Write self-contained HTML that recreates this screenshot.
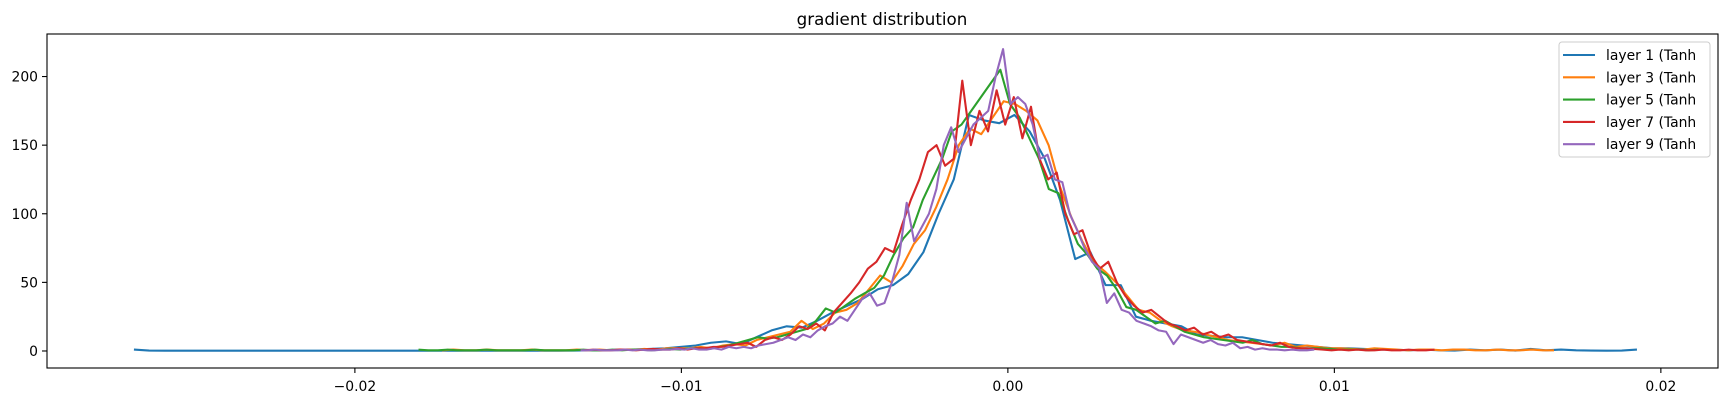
<!DOCTYPE html>
<html><head><meta charset="utf-8"><style>
html,body{margin:0;padding:0;background:#fff;}
svg text{font-family:"DejaVu Sans","Liberation Sans",sans-serif;fill:#000;}
</style></head><body>
<svg id="chart" width="1727" height="402" viewBox="0 0 1727 402" xmlns="http://www.w3.org/2000/svg">
<rect width="1727" height="402" fill="#fff"/>
<text x="882" y="25" font-size="16.7" text-anchor="middle">gradient distribution</text>
<g id="plot"></g>
<rect x="47" y="34" width="1671" height="334" fill="none" stroke="#000" stroke-width="1.1"/>
<g id="legend"></g>
</svg>
<script>
const xTicks = [-0.02, -0.01, 0.0, 0.01, 0.02];
const xTickLabels = ["\u22120.02", "\u22120.01", "0.00", "0.01", "0.02"];
const yTicks = [0, 50, 100, 150, 200];
const seriesNames = ["layer 1 (Tanh", "layer 3 (Tanh", "layer 5 (Tanh", "layer 7 (Tanh", "layer 9 (Tanh"];
const seriesColors = ["#1f77b4", "#ff7f0e", "#2ca02c", "#d62728", "#9467bd"];
const seriesRanges = [[-0.027, 0.0195], [-0.0175, 0.0169], [-0.0182, 0.0115], [-0.0131, 0.0132], [-0.0132, 0.0095]];
const layer1 = [1,0.3,0.2,0.2,0.2,0.2,0.2,0.2,0.2,0.2,0.2,0.2,0.2,0.2,0.2,0.2,0.2,0.2,0.2,0.2,0.2,0.2,0.2,0.2,0.2,0.2,0.2,0.2,0.2,0.3,0.5,0.5,1,1,1.5,2,3,4,6,7,5,10,15,18,17,22,28,33,38,45,48,56,72,100,125,172,168,166,172,160,140,110,67,72,48,48,25,22,20,18,12,11,10,10,8,6,5,4,3,2,2,1.5,1,1,0.5,1,0.5,0.3,1,0.5,1,0.3,1.5,0.5,1,0.5,0.3,0.2,0.3,1];
const layer3 = [0.5,1,0.5,0.5,1,0.5,0.5,0.5,1,0.5,0.5,0.5,1,0.5,1,0.5,1,1,1.5,1,2,2,2,3,2,4,5,4,8,10,12,14,22,16,20,28,30,35,45,55,50,62,78,88,105,125,150,162,158,170,182,180,175,168,150,120,98,80,65,58,50,40,30,28,22,18,15,14,12,10,8,7,6,5,4,6,3,4,3,2,2,1.5,1,2,1.5,1,0.5,1,1,0.5,1,1,0.5,0.5,1,0.5,0.5,1,0.5,0.5];
const layer5 = [1,0.5,0.5,1,0.5,0.5,0.5,1,0.5,0.5,0.5,0.5,1,0.5,0.5,0.5,0.5,1,0.5,0.5,1,0.5,1,1,0.5,1,1.5,1,2,2,1.5,3,4,6,8,10,9,10,12,14,16,22,31,28,33,38,42,46,55,70,82,90,110,125,140,160,165,175,185,195,205,180,170,155,140,118,115,95,78,70,60,55,45,32,30,25,20,22,18,14,12,10,9,8,7,6,8,5,4,3,3,2,2,2,1.5,1,1,1,0.5,1];
const layer7 = [0.5,1,0.5,0.5,1,1,0.5,1,1.5,1,1,2,1,2,2,3,3,4,5,6,3,8,10,8,12,18,16,20,15,28,35,42,50,60,65,75,72,92,110,125,145,150,135,140,197,150,175,160,190,165,185,155,178,140,125,130,100,85,88,70,60,65,50,40,33,28,30,25,20,18,15,17,12,14,10,12,8,7,6,5,4,6,3,2,2,1.5,1,0.5,1,0.5,1,0.5,0.5,1,0.5,0.5,1,0.5,0.5,1];
const layer9 = [0.5,0.5,1,0.5,0.5,0.5,1,0.5,1,0.5,0.5,1,1,1.5,1,2,1,1,2,1,3,2,3,2,4,5,6,8,10,8,12,10,15,18,20,25,22,30,38,42,33,35,50,70,108,80,90,100,118,150,163,145,155,165,170,175,200,220,180,185,180,165,140,143,125,123,100,88,75,65,60,35,42,30,28,22,20,18,15,14,5,12,10,8,6,8,5,4,6,2,3,1,2,1,1,0.5,1,0.5,0.5,1];
const seriesValues = [layer1, layer3, layer5, layer7, layer9];

const NS = "http://www.w3.org/2000/svg";
const AX = {left: 47, right: 1718, top: 34, bottom: 368};
const X_MIN = -0.02943, X_MAX = 0.02175, Y_MIN = -12.4, Y_MAX = 231;
function xScale(v){ return AX.left + (v - X_MIN) / (X_MAX - X_MIN) * (AX.right - AX.left); }
function yScale(v){ return AX.bottom - (v - Y_MIN) / (Y_MAX - Y_MIN) * (AX.bottom - AX.top); }

const plot = document.getElementById("plot");
const svg = document.getElementById("chart");

xTicks.forEach((t, i) => {
  const x = xScale(t);
  const tick = document.createElementNS(NS, "line");
  
  
  tick.setAttribute("x1", x); tick.setAttribute("x2", x);
  tick.setAttribute("y1", AX.bottom); tick.setAttribute("y2", AX.bottom + 5);
  tick.setAttribute("stroke", "#000"); tick.setAttribute("stroke-width", "1.1");
  svg.appendChild(tick);
  const lab = document.createElementNS(NS, "text");
  
  
  lab.setAttribute("x", x); lab.setAttribute("y", AX.bottom + 23);
  lab.setAttribute("font-size", "13.9"); lab.setAttribute("text-anchor", "middle");
  lab.textContent = xTickLabels[i];
  svg.appendChild(lab);
});
yTicks.forEach(t => {
  const y = yScale(t);
  const tick = document.createElementNS(NS, "line");
  
  
  tick.setAttribute("x1", AX.left - 5); tick.setAttribute("x2", AX.left);
  tick.setAttribute("y1", y); tick.setAttribute("y2", y);
  tick.setAttribute("stroke", "#000"); tick.setAttribute("stroke-width", "1.1");
  svg.appendChild(tick);
  const lab = document.createElementNS(NS, "text");
  
  
  lab.setAttribute("x", AX.left - 9); lab.setAttribute("y", y + 5);
  lab.setAttribute("font-size", "13.9"); lab.setAttribute("text-anchor", "end");
  lab.textContent = String(t);
  svg.appendChild(lab);
});

seriesValues.forEach((vals, s) => {
  const [lo, hi] = seriesRanges[s];
  const w = (hi - lo) / vals.length;
  const pts = vals.map((v, i) => xScale(lo + (i + 0.5) * w).toFixed(2) + "," + yScale(v).toFixed(2)).join(" ");
  const pl = document.createElementNS(NS, "polyline");
  
  
  pl.setAttribute("points", pts);
  pl.setAttribute("fill", "none");
  pl.setAttribute("stroke", seriesColors[s]);
  pl.setAttribute("stroke-width", "2.1");
  pl.setAttribute("stroke-linejoin", "round");
  plot.appendChild(pl);
});

const legend = document.getElementById("legend");
const box = document.createElementNS(NS, "rect");


box.setAttribute("x", 1559); box.setAttribute("y", 42);
box.setAttribute("width", 151); box.setAttribute("height", 115);
box.setAttribute("rx", 3);
box.setAttribute("fill", "#fff"); box.setAttribute("fill-opacity", "0.8");
box.setAttribute("stroke", "#ccc"); box.setAttribute("stroke-width", "1");
legend.appendChild(box);
seriesNames.forEach((name, i) => {
  const y = 55 + i * 22.3;
  const ln = document.createElementNS(NS, "line");
  
  
  ln.setAttribute("x1", 1563); ln.setAttribute("x2", 1595);
  ln.setAttribute("y1", y); ln.setAttribute("y2", y);
  ln.setAttribute("stroke", seriesColors[i]); ln.setAttribute("stroke-width", "2.1");
  legend.appendChild(ln);
  const tx = document.createElementNS(NS, "text");
  
  
  tx.setAttribute("x", 1606); tx.setAttribute("y", y + 5);
  tx.setAttribute("font-size", "13.9");
  tx.textContent = name;
  legend.appendChild(tx);
});
</script>
</body></html>
